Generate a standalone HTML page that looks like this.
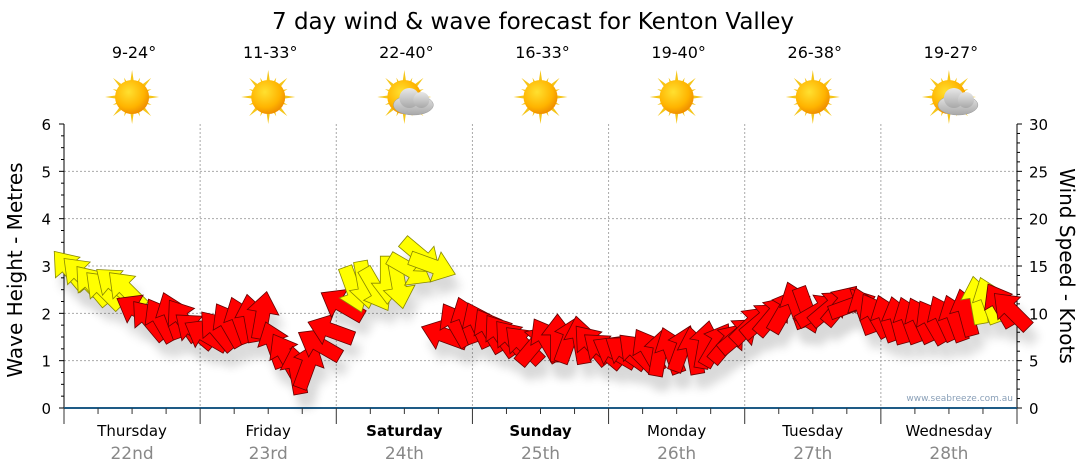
<!DOCTYPE html>
<html><head><meta charset="utf-8"><style>
body{margin:0;background:#fff;}
svg{display:block;font-family:"DejaVu Sans","Liberation Sans",sans-serif;}
</style></head><body>
<svg id="chart" width="1080" height="475" viewBox="0 0 1080 475" xmlns="http://www.w3.org/2000/svg">
<defs>
<radialGradient id="sunG" cx="40%" cy="35%" r="65%"><stop offset="0" stop-color="#ffe030"/><stop offset="0.7" stop-color="#ffb400"/><stop offset="1" stop-color="#f09000"/></radialGradient>
<linearGradient id="cloudG" x1="0" y1="0" x2="0" y2="1"><stop offset="0" stop-color="#e8e8e8"/><stop offset="1" stop-color="#a8a8a8"/></linearGradient>
<filter id="shadow" x="-50%" y="-50%" width="200%" height="200%"><feGaussianBlur stdDeviation="5"/></filter>
</defs>
<text x="533" y="29" text-anchor="middle" font-size="23" fill="#000">7 day wind &amp; wave forecast for Kenton Valley</text>
<g id="weather"></g>
<g id="grid"></g>
<g id="axes"></g>
<g id="shadows" opacity="0.15"></g>
<g id="arrows"></g>
<text x="1013" y="401" text-anchor="end" font-size="9" fill="#8aa0b8">www.seabreeze.com.au</text>
<text transform="translate(22,270) rotate(-90)" text-anchor="middle" font-size="20" fill="#000">Wave Height - Metres</text>
<text transform="translate(1060,266) rotate(90)" text-anchor="middle" font-size="20" fill="#000">Wind Speed - Knots</text>
</svg>
<script>
const days = ["Thursday","Friday","Saturday","Sunday","Monday","Tuesday","Wednesday"];
const dates = ["22nd","23rd","24th","25th","26th","27th","28th"];
const boldDays = [false,false,true,true,false,false,false];
const temps = ["9-24°","11-33°","22-40°","16-33°","19-40°","26-38°","19-27°"];
const cloudy = [false,false,true,false,false,false,true];
const waveTicks = [0,1,2,3,4,5,6];
const windTicks = [0,5,10,15,20,25,30];
// wind speed (knots), 2-hourly
const windSpeed = [14.6,14,13,12.5,13,12.5,10.3,9.3,9.3,9.8,9.3,8.2,
 7.7,8.2,8.8,9.3,9.5,9.8,6.7,5.6,4,4.5,6.7,8.2,
 10.9,12.5,13,12.5,13.5,13,14.6,16,15,7.7,8.8,9.3,
 8.8,8.2,7.7,7.2,6.7,6.7,7.2,7.4,7.2,7.2,6.7,6.1,
 5.9,5.9,5.9,6.1,5.9,6.1,6.3,6.1,6.7,6.7,6.9,7.7,
 8.8,9.3,9.8,10.3,10.9,10.3,10.3,10.6,10.9,10.9,10.3,9.8,
 9.5,9.3,9.3,9.3,9.1,9.5,9.5,10.1,11.4,11.4,10.9,10.3];
// arrow pointing direction (deg, 0 = up, clockwise)
const windDir = [-40,-45,-40,-45,-50,-45,-60,-40,-30,-20,-35,-50,
 -60,-40,-30,-20,-10,10,-20,-30,-10,20,-60,-70,
 -60,160,170,150,180,170,120,130,110,-70,-30,-20,
 -25,-30,-35,-40,-45,40,-30,0,20,-10,-40,-50,
 -60,-55,-45,-30,10,-20,20,-10,10,30,40,50,
 45,50,40,30,-20,160,60,50,40,70,-20,-30,
 -20,-15,-20,-25,-30,-25,-20,-15,-10,-20,-30,-45];
const windColor = [1,1,1,1,1,1,0,0,0,0,0,0, 0,0,0,0,0,0,0,0,0,0,0,0,
 0,1,1,1,1,1,1,1,1,0,0,0, 0,0,0,0,0,0,0,0,0,0,0,0, 0,0,0,0,0,0,0,0,0,0,0,0,
 0,0,0,0,0,0,0,0,0,0,0,0, 0,0,0,0,0,0,0,0,1,1,0,0];

const NS="http://www.w3.org/2000/svg";
const X0=64,X1=1017,Y0=408,Y1=124;
const dayW=(X1-X0)/7;
const xHour=h=>X0+h/168*(X1-X0);
const yWave=m=>Y0-m/6*(Y0-Y1);
const yWind=k=>Y0-k/30*(Y0-Y1);
function mk(tag,attrs,parent,text){const e=document.createElementNS(NS,tag);for(const k in attrs)e.setAttribute(k,attrs[k]);if(text!==undefined)e.textContent=text;parent.appendChild(e);return e;}
const grid=document.getElementById('grid'),axes=document.getElementById('axes'),weather=document.getElementById('weather');

waveTicks.forEach(t=>{if(t>0&&t<6){const l=mk('line',{x1:X0,x2:X1,y1:yWave(t),y2:yWave(t),stroke:'#aaa','stroke-dasharray':'2,2'},grid);

}});
for(let d=1;d<7;d++){const l=mk('line',{x1:X0+d*dayW,x2:X0+d*dayW,y1:Y1,y2:Y0,stroke:'#aaa','stroke-dasharray':'2,2'},grid);

}

mk('line',{x1:X0,x2:X0,y1:Y1,y2:Y0,stroke:'#000'},axes);
for(let i=0;i<=24;i++){const y=yWave(i/4);mk('line',{x1:X0-(i%4==0?5:3),x2:X0,y1:y,y2:y,stroke:'#000'},axes);}
waveTicks.forEach(t=>{const e=mk('text',{x:X0-13,y:yWave(t)+6,'text-anchor':'end','font-size':'15'},axes,t);

});
mk('line',{x1:X1,x2:X1,y1:Y1,y2:Y0,stroke:'#000'},axes);
for(let i=0;i<=30;i++){const y=yWind(i);mk('line',{x1:X1,x2:X1+(i%5==0?5:3),y1:y,y2:y,stroke:'#000'},axes);}
windTicks.forEach(t=>{const e=mk('text',{x:X1+12,y:yWind(t)+6,'font-size':'15'},axes,t);

});
mk('line',{x1:X0,x2:X1,y1:Y0,y2:Y0,stroke:'#1e5b86','stroke-width':2},axes);
for(let h=0;h<=168;h+=6){const x=xHour(h);mk('line',{x1:x,x2:x,y1:Y0,y2:Y0+(h%24==0?16:6),stroke:'#333'},axes);}
days.forEach((d,i)=>{const cx=X0+(i+0.5)*dayW;
const a=mk('text',{x:cx,y:436,'text-anchor':'middle','font-size':'15','font-weight':boldDays[i]?'bold':'normal'},axes,d);


const b=mk('text',{x:cx,y:459,'text-anchor':'middle','font-size':'17',fill:'#888'},axes,dates[i]);


const t=mk('text',{x:cx+2,y:58,'text-anchor':'middle','font-size':'16'},weather,temps[i]);


const g=mk('g',{transform:`translate(${cx},97)`},weather);


for(let r=0;r<16;r++){const ang=r*22.5,len=r%2?21:27;mk('polygon',{points:`-4,0 4,0 0,-${len}`,fill:'#f5c518',transform:`rotate(${ang})`},g);}
mk('circle',{r:17,fill:'url(#sunG)'},g);
if(cloudy[i]){const c=mk('g',{transform:'translate(9,4)'},g);
mk('ellipse',{cx:0,cy:4,rx:20,ry:10,fill:'url(#cloudG)',stroke:'#999','stroke-width':0.5},c);
mk('circle',{cx:-4,cy:-3,r:10,fill:'url(#cloudG)'},c);
mk('circle',{cx:8,cy:-1,r:8,fill:'url(#cloudG)'},c);}
});

const arrows=document.getElementById('arrows'),shadows=document.getElementById('shadows');
const shape="0,-24 16,-3 7,-3 7,24 -7,24 -7,-3 -16,-3";
windSpeed.forEach((k,i)=>{const x=xHour(i*2+1),y=yWind(k);
const s=mk('polygon',{points:shape,fill:'#000',filter:'url(#shadow)',transform:`translate(${x+6},${y+14}) rotate(${windDir[i]})`},shadows);


const p=mk('polygon',{points:shape,fill:windColor[i]?'#ffff00':'#ff0000',stroke:windColor[i]?'#888800':'#600','stroke-width':0.8,transform:`translate(${x},${y}) rotate(${windDir[i]})`},arrows);

});
</script>
</body></html>
